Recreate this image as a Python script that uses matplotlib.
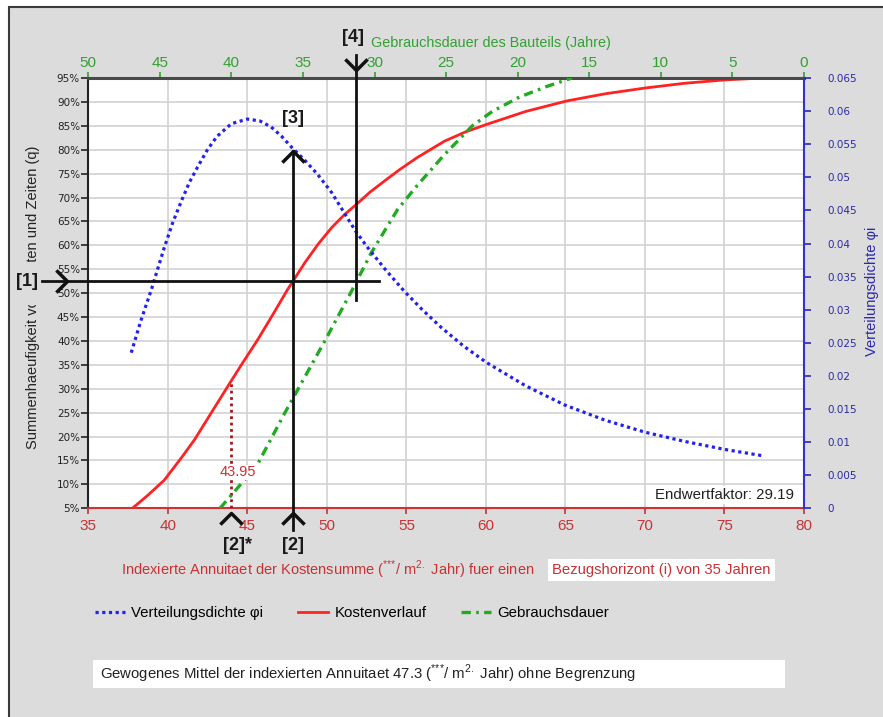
import numpy as np
import matplotlib
matplotlib.use('Agg')
import matplotlib.pyplot as plt
from matplotlib.patches import Rectangle
from matplotlib.path import Path

plt.rcParams['font.family'] = ['Liberation Sans', 'DejaVu Sans']
plt.rcParams['mathtext.fontset'] = 'custom'
plt.rcParams['mathtext.rm'] = 'Liberation Sans'

#%% data
# Kostenverlauf: annuity (bottom axis) vs cumulative frequency (%)
kosten_x = [37.77, 38.7, 39.78, 40.86, 41.67, 42.7, 43.75, 44.7, 45.64, 46.6,
            47.52, 48.6, 49.44, 50.3, 51.1, 51.87, 52.7, 53.6, 54.6, 55.7,
            57.4, 58.7, 60.05, 62.5, 65.08, 67.5, 70.0, 72.5, 75.0, 77.4]
kosten_q = [5.0, 7.6, 10.9, 15.6, 19.3, 24.8, 30.4, 35.4, 40.2, 45.5,
            50.7, 56.3, 60.2, 63.7, 66.4, 68.6, 71.1, 73.4, 75.9, 78.4,
            81.8, 83.7, 85.3, 88.0, 90.2, 91.7, 92.9, 93.9, 94.6, 95.0]

# Verteilungsdichte: annuity vs density (right axis)
dichte_x = [37.7, 38.3, 38.96, 39.78, 40.3, 40.85, 41.35, 41.86, 42.5, 43.1,
            44.0, 45.0, 45.8, 46.5, 47.15, 47.8, 48.6, 49.4, 50.3, 51.1,
            51.8, 52.56, 53.7, 54.9, 56.0, 57.2, 58.6, 60.05, 62.5, 64.96,
            67.5, 70.0, 72.5, 75.0, 77.5]
dichte_phi = [0.0235, 0.0283, 0.033, 0.0394, 0.0431, 0.0464, 0.0492, 0.0515, 0.0542, 0.0562,
              0.0581, 0.0588, 0.0585, 0.0576, 0.0562, 0.0545, 0.0526, 0.0505, 0.0477, 0.0446,
              0.0419, 0.0394, 0.0360, 0.0327, 0.0300, 0.0273, 0.0245, 0.0220, 0.0185, 0.0156,
              0.0133, 0.0115, 0.0101, 0.0089, 0.0079]

# Gebrauchsdauer: service life in years (top axis) vs cumulative frequency (%)
dauer_jahre = [40.8, 39.53, 38.14, 36.28, 33.44, 31.56, 30.22, 28.39, 27.0, 25.11,
               23.17, 21.78, 19.89, 18.0, 16.22]
dauer_q = [5.0, 9.4, 14.4, 24.9, 40.2, 50.7, 58.5, 67.5, 72.6, 79.0,
           85.0, 88.0, 91.0, 93.2, 95.0]

x_ticks = list(range(35, 81, 5))
q_ticks = list(range(5, 96, 5))
jahre_ticks = list(range(50, -1, -5))
phi_ticks = [round(0.005 * i, 3) for i in range(14)]

marker_x = 43.95      # dotted red reference
mittel_x = 47.87      # crosshair [1]/[2]/[3]
mittel_q = 52.55
dauer_mark_x = 51.85  # line [4]
endwert = 29.19

RED = '#ff2222'
RED_TXT = '#c83232'
GREEN = '#22aa22'
GREEN_TXT = '#33a033'
BLUE = '#2222ee'
BLUE_TXT = '#2a2aa8'
BLACK = '#111111'
BG = '#dcdcdc'

W, H = 883, 717
def fx(px):
    return px / W
def fy(py):
    return 1 - py / H

fig = plt.figure(figsize=(W / 100, H / 100), dpi=100)
fig.patch.set_facecolor('white')
fig.patches.append(Rectangle((fx(9), -0.05), 1.2, fy(7) + 0.05, transform=fig.transFigure,
                             fc=BG, ec='#3a3a3a', lw=1.5, zorder=-10))

ax = fig.add_axes([fx(88.3), fy(508.3), fx(804) - fx(88.3), fy(78) - fy(508.3)])
ax.set_facecolor('white')
ax.set_xlim(35, 80)
ax.set_ylim(5, 95)
ax.set_xticks(x_ticks)
ax.set_yticks(q_ticks)
ax.set_yticklabels([f'{v}%' for v in q_ticks])
ax.grid(True, color='#d2d2d2', lw=1.2)
ax.set_axisbelow(True)
ax.tick_params(axis='x', colors=RED_TXT, direction='out', length=4, width=1.2, labelsize=11, pad=4)
ax.tick_params(axis='y', colors='#222222', direction='out', length=5, width=1.2, labelsize=7.5, pad=1)
for lbl in ax.get_yticklabels():
    lbl.set_family('DejaVu Sans')
ax.spines['bottom'].set_color('#cc3333')
ax.spines['bottom'].set_linewidth(1.5)
ax.spines['left'].set_color('#222222')
ax.spines['left'].set_linewidth(1.5)
ax.spines['top'].set_visible(False)
ax.spines['right'].set_visible(False)

ax.set_ylabel('Summenhaeufigkeit von Kosten und Zeiten (q)', fontsize=10.5, color='#222222')
ax.yaxis.set_label_coords((40 - 88.3) / 715.7, 0.49)

kosten_line, = ax.plot(kosten_x, kosten_q, color=RED, lw=2, zorder=3)

# top axis: Gebrauchsdauer
ax_top = ax.twiny()
ax_top.set_xlim(50, 0)
ax_top.set_xticks(jahre_ticks)
ax_top.tick_params(axis='x', colors=GREEN_TXT, direction='out', length=4, width=1.2, labelsize=11, pad=1.5)
for s in ['left', 'right', 'bottom']:
    ax_top.spines[s].set_visible(False)
ax_top.spines['top'].set_color('#4a4a4a')
ax_top.spines['top'].set_linewidth(2.2)
dauer_line, = ax_top.plot(dauer_jahre, dauer_q, color=GREEN, lw=2.4,
                          dashes=(2.8, 1.6, 0.8, 1.6), zorder=3)

# right axis: Verteilungsdichte
ax_right = ax.twinx()
ax_right.set_ylim(0, 0.065)
ax_right.set_yticks(phi_ticks)
ax_right.set_yticklabels([f'{v:g}' for v in phi_ticks])
ax_right.tick_params(axis='y', colors=BLUE_TXT, direction='out', length=5, width=1.2, labelsize=7.5, pad=12)
for lbl in ax_right.get_yticklabels():
    lbl.set_family('DejaVu Sans')
for s in ['left', 'top', 'bottom']:
    ax_right.spines[s].set_visible(False)
ax_right.spines['right'].set_color('#3333cc')
ax_right.spines['right'].set_linewidth(1.5)
dichte_line, = ax_right.plot(dichte_x, dichte_phi, color=BLUE, lw=2.3,
                             linestyle=(0, (1, 1.1)), dash_capstyle='butt', zorder=3)

#%% reading aids (drawn on the top-most axes, in bottom-axis data coordinates)
up = Path([(-1, -1), (0, 0), (1, -1)], [Path.MOVETO, Path.LINETO, Path.LINETO])
down = Path([(-1, 1), (0, 0), (1, 1)], [Path.MOVETO, Path.LINETO, Path.LINETO])
right = Path([(-1, 1), (0, 0), (-1, -1)], [Path.MOVETO, Path.LINETO, Path.LINETO])
td = ax.transData
chev = dict(color=BLACK, ms=16, mew=2.5, mfc='none', clip_on=False, zorder=6, ls='none', transform=td)
blk = dict(color=BLACK, lw=2, clip_on=False, zorder=6, transform=td)

red_at_marker = np.interp(marker_x, kosten_x, kosten_q)
ax.plot([marker_x, marker_x], [5, red_at_marker], color='#a01818', lw=2, ls=(0, (1, 1.3)), zorder=4)
ax_right.text(marker_x + 0.45, 12.5, f'{marker_x:.2f}', transform=td, color=RED_TXT, fontsize=10.5,
              ha='center', va='center', bbox=dict(fc='white', ec='none', pad=0.5), zorder=5)
ax_right.plot([marker_x], [4.0], marker=up, **chev)

# [1] horizontal, [2] vertical, [3] arrow tip
ax_right.plot([32.1, 53.3], [mittel_q, mittel_q], **blk)
ax_right.plot([33.66], [mittel_q], marker=right, **chev)
ax_right.plot([mittel_x, mittel_x], [0.5, 79.7], **blk)
ax_right.plot([mittel_x], [79.7], marker=up, **chev)
ax_right.plot([mittel_x], [4.0], marker=up, **chev)

# [4] vertical from top axis
ax_right.plot([dauer_mark_x, dauer_mark_x], [99.8, 48.6], **blk)
ax_right.plot([dauer_mark_x], [96.7], marker=down, **chev)

lab = dict(fontsize=13, fontweight='bold', color='#1a1a1a', ha='center', va='center')
fig.patches.append(Rectangle((fx(14), fy(305)), fx(41) - fx(14), fy(262) - fy(305),
                             transform=fig.transFigure, fc=BG, ec='none', zorder=0.5))
fig.text(fx(27), fy(281), '[1]', zorder=1, **lab)
ax_right.text(mittel_x, 86.6, '[3]', transform=td, zorder=7, **lab)
fig.text(fx(293), fy(545), '[2]', **lab)
fig.text(fx(238), fy(545), '[2]*', **lab)
fig.text(fx(353), fy(38), '[4]', **lab)

fig.text(fx(371), fy(43), 'Gebrauchsdauer des Bauteils (Jahre)', color=GREEN_TXT,
         fontsize=10.4, ha='left', va='center')

ax.text(79.4, 7.8, f'Endwertfaktor: {endwert}', fontsize=10.8, color='#222222', ha='right', va='center',
        bbox=dict(fc='white', ec='none', pad=1.5), zorder=5)

fig.text(fx(872), fy(291), 'Verteilungsdichte φi', rotation=90, color=BLUE_TXT,
         fontsize=10.5, ha='center', va='center')

unit = r'($^{\text{***}}$/ m$^{2.}$ Jahr)'
fig.text(fx(121), fy(570), f'Indexierte Annuitaet der Kostensumme {unit} fuer einen',
         color=RED_TXT, fontsize=10.5, ha='left', va='center')
fig.text(fx(552), fy(570), 'Bezugshorizont (i) von 35 Jahren', color=RED_TXT, fontsize=10.7,
         ha='left', va='center', bbox=dict(fc='white', ec='none', pad=3))

#%% legend and bottom note
fig.legend([dichte_line, kosten_line, dauer_line],
           ['Verteilungsdichte φi', 'Kostenverlauf', 'Gebrauchsdauer'],
           loc='center left', bbox_to_anchor=(fx(81), fy(613)), ncol=3, frameon=False,
           fontsize=10.8, handlelength=2.0, handletextpad=0.45, columnspacing=2.3)

fig.patches.append(Rectangle((fx(93), fy(688)), fx(785) - fx(93), fy(660) - fy(688),
                             transform=fig.transFigure, fc='white', ec='none', zorder=-5))
fig.text(fx(100), fy(674), f'Gewogenes Mittel der indexierten Annuitaet 47.3 {unit} ohne Begrenzung',
         fontsize=10.7, color='#222222', ha='left', va='center')

fig.savefig('out.png', dpi=100)
